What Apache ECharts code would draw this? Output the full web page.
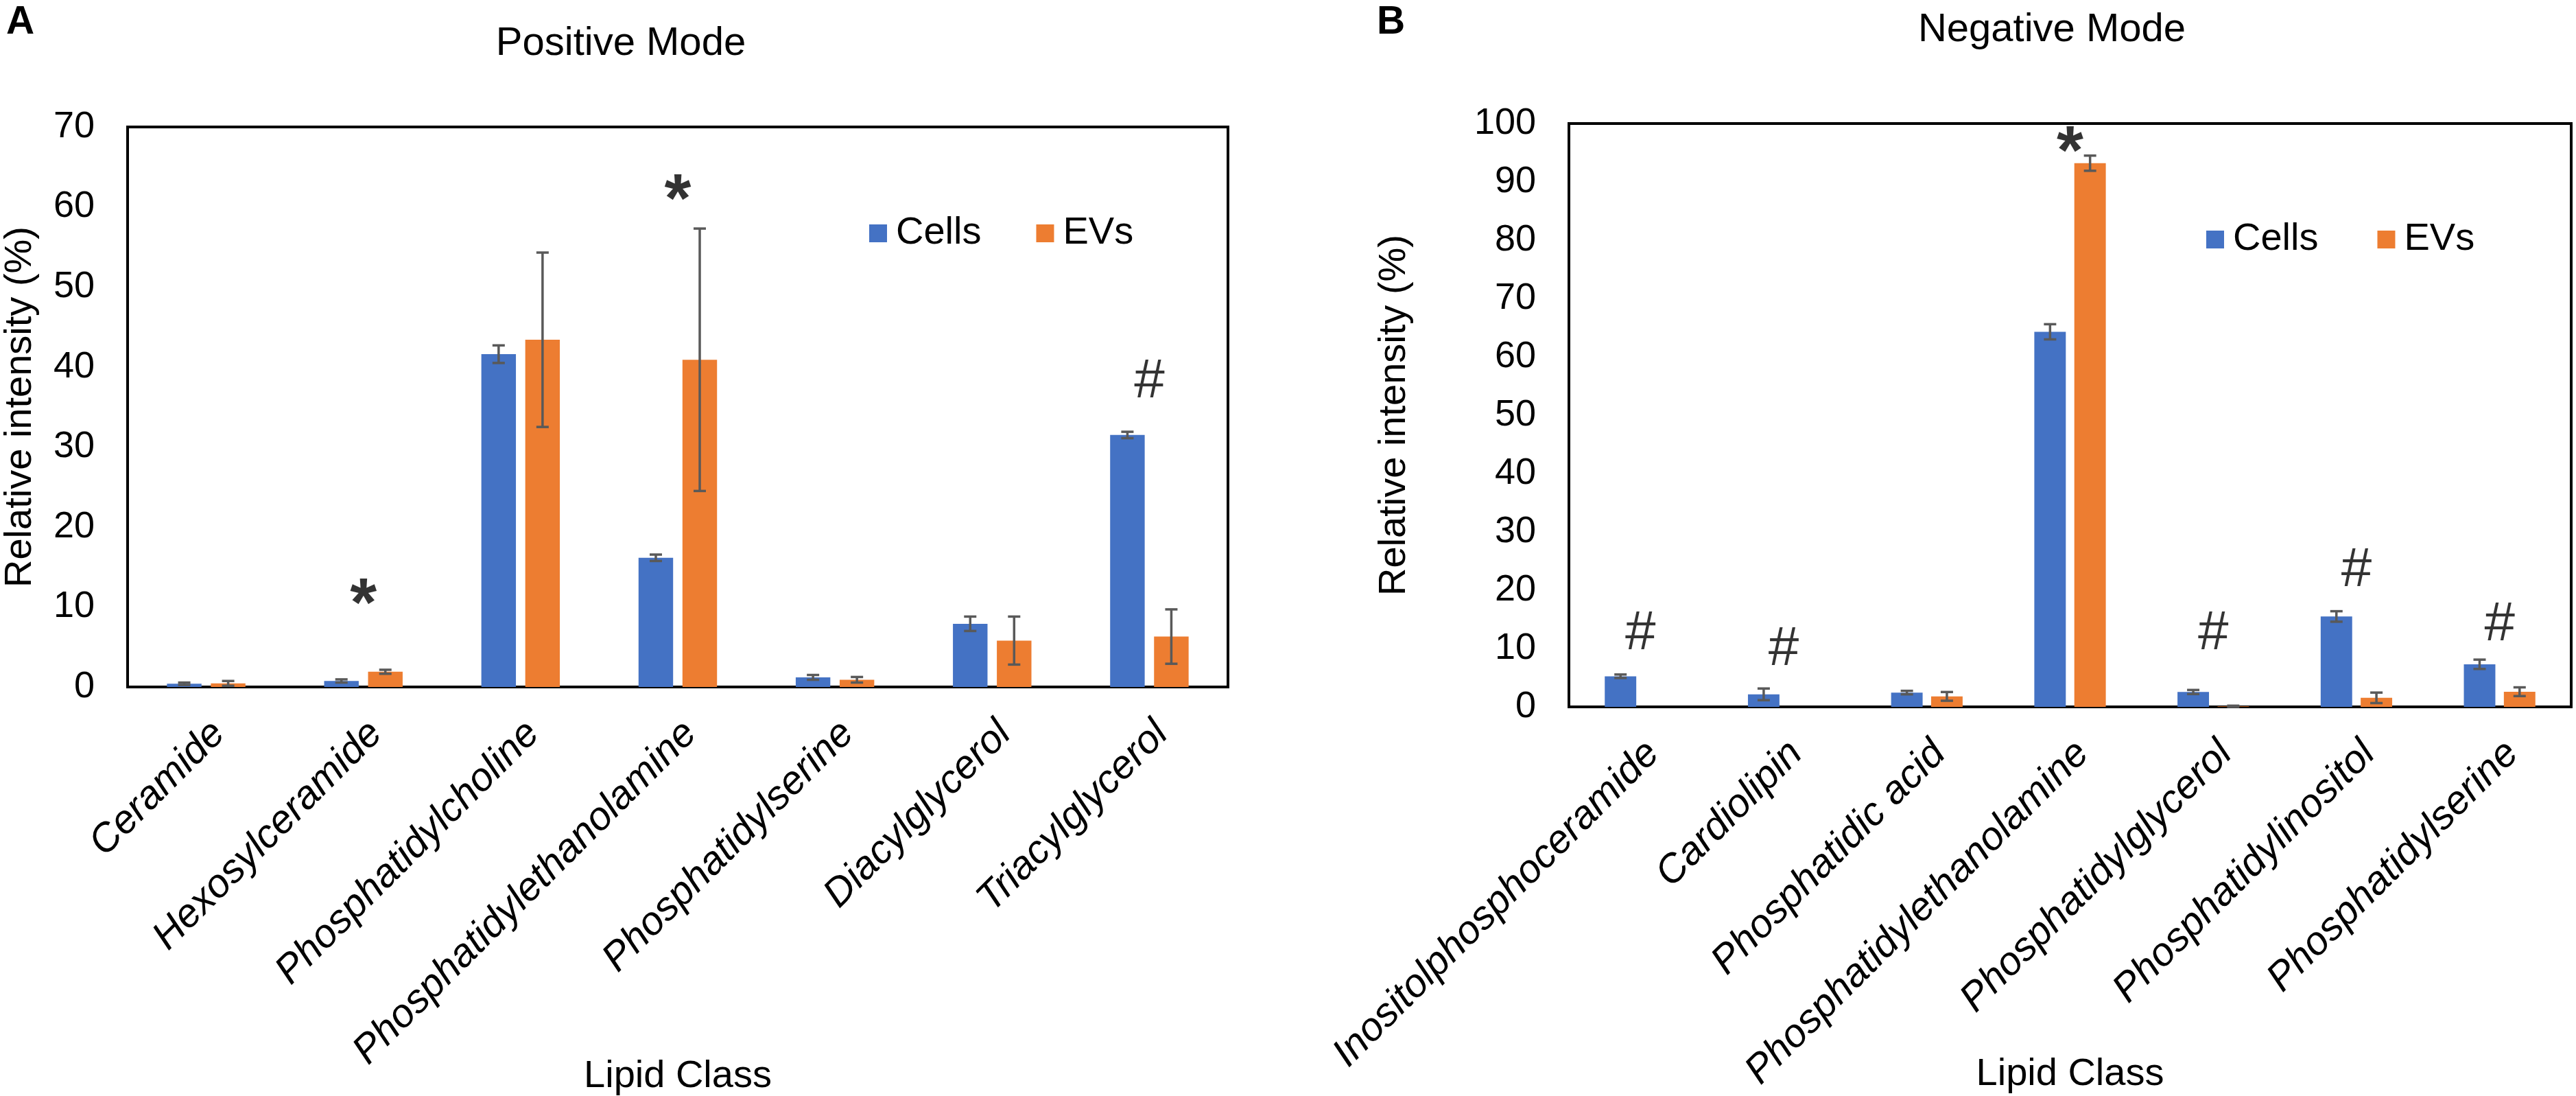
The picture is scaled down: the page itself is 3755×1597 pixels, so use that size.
<!DOCTYPE html>
<html>
<head>
<meta charset="utf-8">
<script src="https://cdn.jsdelivr.net/npm/echarts@6/dist/echarts.min.js"></script>
<style>
  html, body { margin: 0; padding: 0; background: #fff; }
  #main { width: 3755px; height: 1597px; }
</style>
</head>
<body>
<div id="main"></div>
<script>
// positive mode (panel A)
var posCategories = ['Ceramide', 'Hexosylceramide', 'Phosphatidylcholine', 'Phosphatidylethanolamine', 'Phosphatidylserine', 'Diacylglycerol', 'Triacylglycerol'];
var posCells = [0.4, 0.75, 41.6, 16.15, 1.2, 7.9, 31.5];
var posCellsErr = [0.15, 0.2, 1.1, 0.4, 0.3, 0.9, 0.4];
var posEVs = [0.45, 1.9, 43.4, 40.9, 0.9, 5.8, 6.3];
var posEVsErr = [0.3, 0.25, 10.9, 16.4, 0.35, 3.0, 3.4];
var posMarkCats = ['Hexosylceramide', 'Phosphatidylethanolamine', 'Triacylglycerol'];
var posMarkY = [11.9, 62.4, 38.4];
var posMarkText = ['*', '*', '#'];

// negative mode (panel B)
var negCategories = ['Inositolphosphoceramide', 'Cardiolipin', 'Phosphatidic acid', 'Phosphatidylethanolamine', 'Phosphatidylglycerol', 'Phosphatidylinositol', 'Phosphatidylserine'];
var negCells = [5.25, 2.15, 2.45, 64.3, 2.55, 15.5, 7.3];
var negCellsErr = [0.3, 1.0, 0.3, 1.3, 0.35, 0.9, 0.8];
var negEVs = [0, 0, 1.8, 93.2, 0.1, 1.55, 2.6];
var negEVsErr = [0, 0, 0.75, 1.3, 0.1, 0.9, 0.75];
var negMarkCats = ['Inositolphosphoceramide', 'Cardiolipin', 'Phosphatidylethanolamine', 'Phosphatidylglycerol', 'Phosphatidylinositol', 'Phosphatidylserine'];
var negMarkY = [12.9, 10.2, 97.2, 12.9, 23.8, 14.5];
var negMarkText = ['#', '#', '*', '#', '#', '#'];

var yTicksA = { min: 0, max: 70, interval: 10 };
var yTicksB = { min: 0, max: 100, interval: 10 };

var blue = '#4472C4';
var orange = '#ED7D31';
var font = 'Liberation Sans, Arial, sans-serif';

var barW = 0.22, barGapRatio = 0.27;
// center offset of each bar inside its category, as a share of band width
var halfSpan = (2 * barW + barW * barGapRatio) / 2;
var offCells = -halfSpan + barW / 2;
var offEVs = halfSpan - barW / 2;

function errData(vals, errs) {
  var out = [];
  for (var i = 0; i < vals.length; i++) out.push([i, vals[i], errs[i]]);
  return out;
}

function errSeries(name, idx, vals, errs, off) {
  return {
    type: 'custom',
    name: name + ' err',
    xAxisIndex: idx,
    yAxisIndex: idx,
    z: 5,
    silent: true,
    data: errData(vals, errs),
    renderItem: function (params, api) {
      var e = api.value(2);
      if (!e) return null;
      var x = api.value(0), y = api.value(1);
      var bw = api.size([1, 0])[0];
      var hi = api.coord([x, y + e]);
      var lo = api.coord([x, Math.max(y - e, 0)]);
      var cx = hi[0] + off * bw;
      var cap = 9;
      var st = { stroke: '#595959', lineWidth: 3.5 };
      return {
        type: 'group',
        children: [
          { type: 'line', shape: { x1: cx, y1: hi[1], x2: cx, y2: lo[1] }, style: st },
          { type: 'line', shape: { x1: cx - cap, y1: hi[1], x2: cx + cap, y2: hi[1] }, style: st },
          { type: 'line', shape: { x1: cx - cap, y1: lo[1], x2: cx + cap, y2: lo[1] }, style: st }
        ]
      };
    }
  };
}

// significance marks (* and #) placed on the chart's own axes
function buildMarks(idx, cats, ys, texts) {
  var d = [];
  for (var i = 0; i < cats.length; i++) {
    var star = texts[i] === '*';
    d.push({
      value: [cats[i], ys[i]],
      label: star ? { fontSize: 100, fontWeight: 'bold', offset: [0, 22] } : { fontSize: 80, fontWeight: 'normal', offset: [0, 4] }
    });
  }
  return {
    type: 'scatter',
    xAxisIndex: idx,
    yAxisIndex: idx,
    symbolSize: 0,
    silent: true,
    z: 6,
    data: d,
    label: {
      show: true,
      position: 'inside',
      formatter: function (p) { return texts[p.dataIndex]; },
      color: '#000',
      fontFamily: font
    }
  };
}

function xAxisFor(idx, cats, gap) {
  return {
    type: 'category',
    gridIndex: idx,
    data: cats,
    name: 'Lipid Class',
    nameLocation: 'middle',
    nameGap: gap,
    nameMoveOverlap: false,
    nameTextStyle: { fontSize: 56, color: '#000', fontFamily: font },
    axisTick: { show: false },
    axisLine: { lineStyle: { color: '#000', width: 4 } },
    axisLabel: {
      interval: 0,
      rotate: 45,
      margin: 41,
      verticalAlign: 'top',
      lineHeight: 52,
      fontSize: 58,
      fontStyle: 'italic',
      color: '#000',
      fontFamily: font
    }
  };
}

function yAxisFor(idx, ticks, gap) {
  return {
    type: 'value',
    gridIndex: idx,
    min: ticks.min,
    max: ticks.max,
    interval: ticks.interval,
    name: 'Relative intensity (%)',
    nameLocation: 'middle',
    nameGap: gap,
    nameMoveOverlap: false,
    nameTextStyle: { fontSize: 56, color: '#000', fontFamily: font },
    splitLine: { show: false },
    axisTick: { show: false },
    axisLine: { show: true, lineStyle: { color: '#000', width: 4 } },
    axisLabel: { fontSize: 54, color: '#000', margin: 48, fontFamily: font }
  };
}

var chartDom = document.getElementById('main');
var myChart = echarts.init(chartDom, null, { renderer: 'canvas' });
var option;

option = {
  animation: false,
  backgroundColor: '#fff',
  textStyle: { fontFamily: font },
  title: [
    { text: 'A', left: 4, top: 0, textStyle: { fontSize: 57, fontWeight: 'bold', color: '#000', fontFamily: font } },
    { text: 'B', left: 2002, top: 0, textStyle: { fontSize: 57, fontWeight: 'bold', color: '#000', fontFamily: font } },
    { text: 'Positive Mode', left: 900, textAlign: 'center', top: 30, textStyle: { fontSize: 58, fontWeight: 'normal', color: '#000', fontFamily: font } },
    { text: 'Negative Mode', left: 2986, textAlign: 'center', top: 10, textStyle: { fontSize: 58, fontWeight: 'normal', color: '#000', fontFamily: font } }
  ],
  legend: [
    {
      left: 1262, top: 307, icon: 'rect', itemWidth: 26, itemHeight: 26, itemGap: 80,
      data: ['Cells', 'EVs'],
      textStyle: { fontSize: 56, color: '#000', padding: [0, 0, 0, 8], fontFamily: font }
    },
    {
      left: 3211, top: 316, icon: 'rect', itemWidth: 26, itemHeight: 26, itemGap: 86,
      data: ['Cells', 'EVs'],
      textStyle: { fontSize: 56, color: '#000', padding: [0, 0, 0, 8], fontFamily: font }
    }
  ],
  grid: [
    { left: 186, top: 185, width: 1604, height: 816, outerBoundsMode: 'none', show: true, borderColor: '#000', borderWidth: 4, backgroundColor: 'transparent' },
    { left: 2287, top: 180, width: 1461, height: 850, outerBoundsMode: 'none', show: true, borderColor: '#000', borderWidth: 4, backgroundColor: 'transparent' }
  ],
  xAxis: [xAxisFor(0, posCategories, 540), xAxisFor(1, negCategories, 508)],
  yAxis: [yAxisFor(0, yTicksA, 128), yAxisFor(1, yTicksB, 226)],
  series: [
    { name: 'Cells', type: 'bar', xAxisIndex: 0, yAxisIndex: 0, data: posCells, barWidth: (barW * 100) + '%', barGap: (barGapRatio * 100) + '%', itemStyle: { color: blue } },
    { name: 'EVs', type: 'bar', xAxisIndex: 0, yAxisIndex: 0, data: posEVs, barWidth: (barW * 100) + '%', barGap: (barGapRatio * 100) + '%', itemStyle: { color: orange } },
    { name: 'Cells', type: 'bar', xAxisIndex: 1, yAxisIndex: 1, data: negCells, barWidth: (barW * 100) + '%', barGap: (barGapRatio * 100) + '%', itemStyle: { color: blue } },
    { name: 'EVs', type: 'bar', xAxisIndex: 1, yAxisIndex: 1, data: negEVs, barWidth: (barW * 100) + '%', barGap: (barGapRatio * 100) + '%', itemStyle: { color: orange } },
    errSeries('Cells', 0, posCells, posCellsErr, offCells),
    errSeries('EVs', 0, posEVs, posEVsErr, offEVs),
    errSeries('Cells', 1, negCells, negCellsErr, offCells),
    errSeries('EVs', 1, negEVs, negEVsErr, offEVs),
    buildMarks(0, posMarkCats, posMarkY, posMarkText),
    buildMarks(1, negMarkCats, negMarkY, negMarkText)
  ]
};

option && myChart.setOption(option);
</script>
</body>
</html>
